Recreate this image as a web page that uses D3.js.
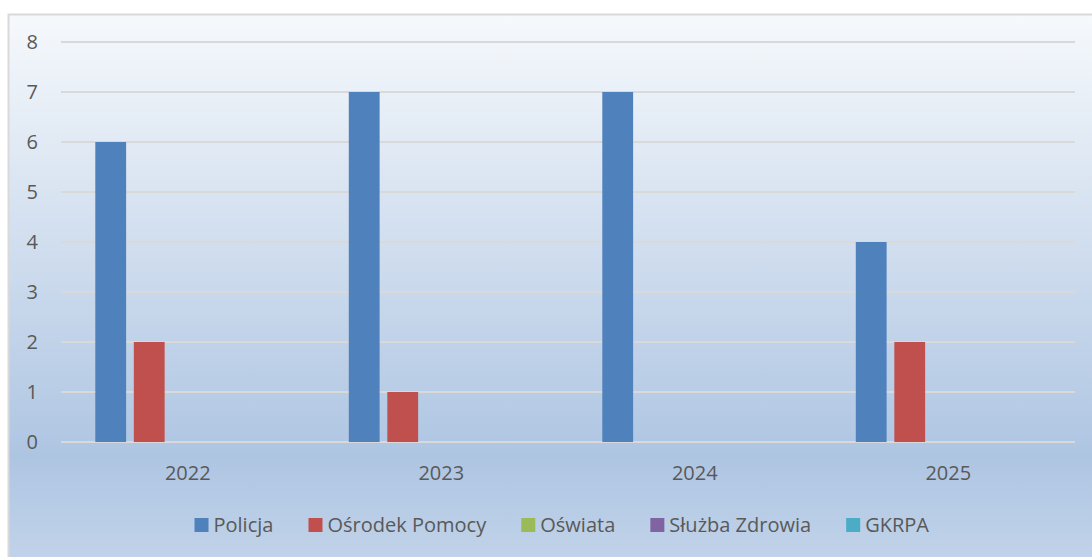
<!DOCTYPE html>
<html>
<head>
<meta charset="utf-8">
<script src="https://cdn.jsdelivr.net/npm/d3@7"></script>
<style>
  body { margin:0; background:#fff; }
  svg text { font-family: "Open Sans", "Noto Sans", sans-serif; fill:#595959; }
</style>
</head>
<body>
<svg id="chart"></svg>
<script>
// data
var years = ["2022", "2023", "2024", "2025"]
var seriesNames = ["Policja", "Ośrodek Pomocy", "Oświata", "Służba Zdrowia", "GKRPA"]
var policja = [6, 7, 7, 4]
var osrodek = [2, 1, 0, 2]
var oswiata = [0, 0, 0, 0]
var sluzba = [0, 0, 0, 0]
var gkrpa = [0, 0, 0, 0]
var yTicks = [0, 1, 2, 3, 4, 5, 6, 7, 8]
var colors = ["#4F81BD", "#C0504D", "#9BBB59", "#8064A2", "#4BACC6"]

var allValues = [policja, osrodek, oswiata, sluzba, gkrpa]

var screen = {width:1092, height:557}
var plot = {left:61, right:1075, top:42, bottom:442}
var fontSize = "20px"

var svg = d3.select("#chart")
    .attr("width", screen.width)
    .attr("height", screen.height)

// background gradient
var defs = svg.append("defs")
var grad = defs.append("linearGradient")
    .attr("id", "bg")
    .attr("x1", 0).attr("y1", 0).attr("x2", 0).attr("y2", 1)
grad.append("stop").attr("offset", "0%").attr("stop-color", "#F6F9FC")
grad.append("stop").attr("offset", "78%").attr("stop-color", "#AEC5E2")
grad.append("stop").attr("offset", "100%").attr("stop-color", "#C5D6EB")

svg.append("rect")
    .attr("x", 8.5).attr("y", 14.5)
    .attr("width", screen.width + 10).attr("height", screen.height + 10)
    .attr("fill", "url(#bg)")
    .attr("stroke", "#D9D9D9")
    .attr("stroke-width", 2)

var xScale = d3.scaleBand()
    .domain(years)
    .range([plot.left, plot.right])

var bw = xScale.bandwidth()
var xInner = d3.scaleBand()
    .domain(seriesNames)
    .range([34.3, bw - 34.3])
    .paddingInner(0.2)

var yScale = d3.scaleLinear()
    .domain([0, 8])
    .range([plot.bottom, plot.top])

// gridlines
svg.append("g").selectAll("line")
    .data(yTicks)
    .enter()
    .append("line")
    .attr("x1", plot.left)
    .attr("x2", plot.right)
    .attr("y1", function(d){ return yScale(d) })
    .attr("y2", function(d){ return yScale(d) })
    .attr("stroke", "#D9D9D9")
    .attr("stroke-width", 2)

// bars
var groups = svg.append("g").selectAll("g")
    .data(seriesNames)
    .enter()
    .append("g")
    .attr("fill", function(d, i){ return colors[i] })

groups.selectAll("rect")
    .data(function(name, i){
        return allValues[i].map(function(v, j){ return {year:years[j], value:v, name:name} })
    })
    .enter()
    .append("rect")
    .attr("x", function(d){ return xScale(d.year) + xInner(d.name) })
    .attr("y", function(d){ return yScale(d.value) })
    .attr("width", xInner.bandwidth())
    .attr("height", function(d){ return yScale(0) - yScale(d.value) })

// y axis labels
var yAxis = d3.axisLeft(yScale).tickValues(yTicks).tickSize(0).tickPadding(0)
var yg = svg.append("g")
    .attr("transform", "translate(38,0)")
    .call(yAxis)
yg.select(".domain").remove()
yg.selectAll("text").style("font-size", fontSize).attr("fill", "#595959")

// x axis labels
var xAxis = d3.axisBottom(xScale).tickSize(0).tickPadding(0)
var xg = svg.append("g")
    .attr("transform", "translate(0,466)")
    .call(xAxis)
xg.select(".domain").remove()
xg.selectAll("text").style("font-size", fontSize).attr("fill", "#595959")

// legend
var legend = svg.append("g").attr("transform", "translate(0,525)")
var entries = legend.selectAll("g")
    .data(seriesNames)
    .enter()
    .append("g")
entries.append("rect")
    .attr("width", 14).attr("height", 14)
    .attr("y", -7)
    .attr("fill", function(d, i){ return colors[i] })
entries.append("text")
    .text(function(d){ return d })
    .attr("x", 19)
    .attr("dy", "0.35em")
    .style("font-size", fontSize)

var widths = []
entries.select("text").each(function(){ widths.push(this.getComputedTextLength()) })
var legendLeft = 194.5, legendRight = 929
var gap = (legendRight - legendLeft - d3.sum(widths) - widths.length * 19) / (widths.length - 1)
var pos = legendLeft
entries.attr("transform", function(d, i){
    var x = pos
    pos += 19 + widths[i] + gap
    return "translate(" + x + ",0)"
})
</script>
</body>
</html>
